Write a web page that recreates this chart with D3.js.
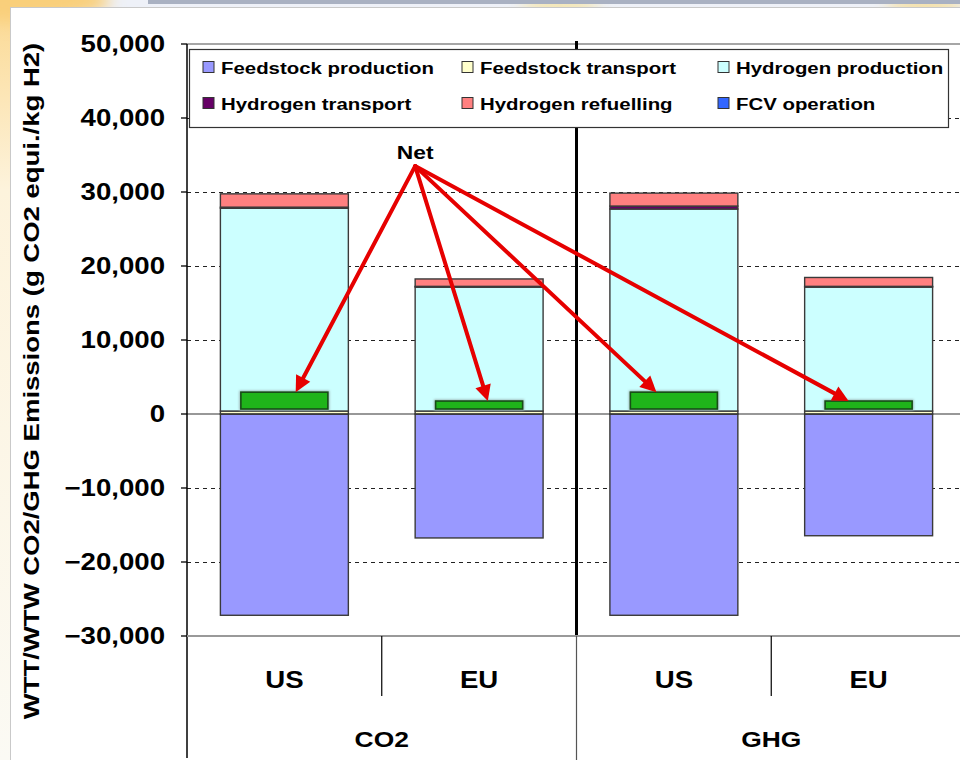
<!DOCTYPE html>
<html>
<head>
<meta charset="utf-8">
<script src="https://cdn.jsdelivr.net/npm/d3@7"></script>
<style>
  html, body { margin: 0; padding: 0; background: #f4f6fb; }
  svg { display: block; }
  text { font-family: "Liberation Sans", Arial, sans-serif; font-weight: bold; fill: #000; }
</style>
</head>
<body>
<svg id="chart" width="960" height="760"></svg>
<script>
// ---- data -------------------------------------------------------------
const categories = ["US", "EU", "US", "EU"];
const groups = ["CO2", "CO2", "GHG", "GHG"];

const feedstockProduction = [-27200, -16750, -27200, -16450];
const feedstockTransport  = [400, 400, 400, 400];
const hydrogenProduction  = [27400, 16750, 27300, 16750];
const hydrogenTransport   = [150, 100, 400, 100];
const hydrogenRefuelling  = [1800, 1000, 1750, 1200];
const fcvOperation        = [0, 0, 0, 0];
const netEmissions        = [2950, 1750, 2950, 1750];

const seriesNames = ["Feedstock production", "Feedstock transport", "Hydrogen production",
                     "Hydrogen transport", "Hydrogen refuelling", "FCV operation"];
const seriesValues = [feedstockProduction, feedstockTransport, hydrogenProduction,
                      hydrogenTransport, hydrogenRefuelling, fcvOperation];
const seriesColors = ["#9999ff", "#ffffcc", "#ccffff", "#660066", "#ff8080", "#3366ff"];

const yTicks = [-30000, -20000, -10000, 0, 10000, 20000, 30000, 40000, 50000];
const yTitle = "WTT/WTW CO2/GHG Emissions (g CO2 equi./kg H2)";
const netLabel = "Net";

// ---- layout -----------------------------------------------------------
const svg = d3.select("#chart");
const plot = { left: 187, right: 966, top: 44, bottom: 636 };
const SX = 1.2; // horizontal text stretch

const keys = categories.map((c, i) => groups[i] + " " + c);
const rows = keys.map((k, i) => {
  const r = { key: k };
  seriesNames.forEach((s, j) => r[s] = seriesValues[j][i]);
  return r;
});

const y = d3.scaleLinear().domain([-30000, 50000]).range([plot.bottom, plot.top]);
const x = d3.scaleBand().domain(keys).range([plot.left, plot.right])
  .paddingInner(0.343).paddingOuter(0.1715);
const step = x.step();
const catStart = k => x(k) - x.paddingOuter() * step;

function place(sel, px, py, sx) {
  return sel.attr("transform", `translate(${px},${py}) scale(${sx},1)`);
}

// ---- backdrop -----------------------------------------------------------
const defs = svg.append("defs");
defs.append("filter").attr("id", "soft").attr("x", "-50%").attr("y", "-50%")
  .attr("width", "200%").attr("height", "200%")
  .append("feGaussianBlur").attr("stdDeviation", 8);
defs.append("filter").attr("id", "halo").attr("x", "-20%").attr("y", "-50%")
  .attr("width", "140%").attr("height", "200%")
  .append("feGaussianBlur").attr("stdDeviation", 1.2);
const lg = defs.append("linearGradient").attr("id", "leftStrip")
  .attr("x1", 0).attr("y1", 0).attr("x2", 0).attr("y2", 1);
lg.append("stop").attr("offset", "0%").attr("stop-color", "#fbd890");
lg.append("stop").attr("offset", "25%").attr("stop-color", "#fdf3dc");
lg.append("stop").attr("offset", "100%").attr("stop-color", "#fbfaf4");

svg.append("rect").attr("width", 960).attr("height", 760).attr("fill", "#eef1f8");
svg.append("rect").attr("x", 0).attr("y", 0).attr("width", 12).attr("height", 760).attr("fill", "url(#leftStrip)");
svg.append("ellipse").attr("cx", 20).attr("cy", 0).attr("rx", 90).attr("ry", 22)
  .attr("fill", "#f9cf7a").attr("filter", "url(#soft)");
svg.append("ellipse").attr("cx", 560).attr("cy", 6).attr("rx", 40).attr("ry", 8)
  .attr("fill", "#f6e3a0").attr("filter", "url(#soft)");
svg.append("ellipse").attr("cx", 925).attr("cy", 6).attr("rx", 40).attr("ry", 8)
  .attr("fill", "#f6dc92").attr("filter", "url(#soft)");
svg.append("rect").attr("x", 148).attr("y", 0).attr("width", 812).attr("height", 4).attr("fill", "#a9b1c2");
svg.append("rect").attr("x", 10.5).attr("y", 7.5).attr("width", 960).attr("height", 760)
  .attr("fill", "#fff").attr("stroke", "#c9c9c9");

// ---- gridlines ----------------------------------------------------------
const grid = svg.append("g");
yTicks.filter(t => t !== 0 && t !== 50000 && t !== -30000).forEach(t => {
  grid.append("line").attr("x1", plot.left).attr("x2", 960)
    .attr("y1", Math.round(y(t)) + 0.5).attr("y2", Math.round(y(t)) + 0.5)
    .attr("stroke", "#222").attr("stroke-width", 1.2).attr("stroke-dasharray", "4,4");
});
// top frame line
svg.append("line").attr("x1", plot.left).attr("x2", 960)
  .attr("y1", y(50000)).attr("y2", y(50000)).attr("stroke", "#888").attr("stroke-width", 1.5);

// ---- stacked bars -------------------------------------------------------
const stack = d3.stack().keys(seriesNames).offset(d3.stackOffsetDiverging)(rows);
const barG = svg.append("g");
stack.forEach((layer, j) => {
  barG.selectAll(null).data(layer.filter(d => d[1] !== d[0])).join("rect")
    .attr("x", d => x(d.data.key))
    .attr("width", x.bandwidth())
    .attr("y", d => y(Math.max(d[0], d[1])))
    .attr("height", d => Math.abs(y(d[0]) - y(d[1])))
    .attr("fill", seriesColors[j])
    .attr("stroke", "#3a3a3a").attr("stroke-width", 1.4);
});

// zero line
svg.append("line").attr("x1", plot.left).attr("x2", 960)
  .attr("y1", y(0)).attr("y2", y(0)).attr("stroke", "#333").attr("stroke-width", 1.2);

// ---- net bars -----------------------------------------------------------
const netW = x.bandwidth() * 0.68;
const netG = svg.append("g");
netEmissions.forEach((v, i) => {
  const k = keys[i];
  const cx = x(k) + x.bandwidth() / 2;
  netG.append("rect").attr("x", cx - netW / 2).attr("width", netW)
    .attr("y", y(v)).attr("height", y(0) - 5 - y(v))
    .attr("fill", "none").attr("stroke", "#9ab0b0").attr("stroke-width", 3)
    .attr("filter", "url(#halo)");
  netG.append("rect").attr("x", cx - netW / 2).attr("width", netW)
    .attr("y", y(v)).attr("height", y(0) - 5 - y(v))
    .attr("fill", "#1fb41a").attr("stroke", "#174d17").attr("stroke-width", 1.6);
});

// group separator inside plot
svg.append("line").attr("x1", catStart(keys[2])).attr("x2", catStart(keys[2]))
  .attr("y1", plot.top - 3).attr("y2", plot.bottom).attr("stroke", "#000").attr("stroke-width", 3);

// ---- y axis -------------------------------------------------------------
const yAxis = svg.append("g");
yAxis.append("line").attr("x1", plot.left).attr("x2", plot.left)
  .attr("y1", plot.top).attr("y2", 758).attr("stroke", "#000").attr("stroke-width", 1.5);
yTicks.forEach(t => {
  yAxis.append("line").attr("x1", plot.left - 6).attr("x2", plot.left)
    .attr("y1", y(t)).attr("y2", y(t)).attr("stroke", "#000").attr("stroke-width", 1.3);
  place(yAxis.append("text"), 165, y(t) + 8, SX)
    .attr("text-anchor", "end").attr("font-size", 23).text(d3.format(",")(t));
});
svg.append("text").attr("text-anchor", "middle").attr("font-size", 22)
  .attr("transform", `translate(39,${381}) rotate(-90) scale(1.25,1)`).text(yTitle);

// ---- category axis ------------------------------------------------------
svg.append("line").attr("x1", plot.left).attr("x2", 960)
  .attr("y1", plot.bottom).attr("y2", plot.bottom).attr("stroke", "#999").attr("stroke-width", 2);
const xAxis = svg.append("g");
keys.forEach((k, i) => {
  const cx = x(k) + x.bandwidth() / 2;
  place(xAxis.append("text"), cx, 688, SX).attr("text-anchor", "middle").attr("font-size", 23)
    .text(categories[i]);
  if (i % 2 === 1) {
    const sx = catStart(k);
    xAxis.append("line").attr("x1", sx).attr("x2", sx).attr("y1", plot.bottom).attr("y2", 696)
      .attr("stroke", "#000").attr("stroke-width", 1.2);
  }
});
const groupNames = Array.from(new Set(groups));
groupNames.forEach((g, gi) => {
  const ks = keys.filter((k, i) => groups[i] === g);
  const x0 = catStart(ks[0]);
  const x1 = catStart(ks[ks.length - 1]) + step;
  place(xAxis.append("text"), (x0 + x1) / 2, 747, SX).attr("text-anchor", "middle")
    .attr("font-size", 22).text(g);
  if (gi > 0) {
    xAxis.append("line").attr("x1", x0).attr("x2", x0).attr("y1", plot.bottom).attr("y2", 760)
      .attr("stroke", "#555").attr("stroke-width", 1.2);
  }
});

// ---- legend -------------------------------------------------------------
const leg = svg.append("g");
leg.append("rect").attr("x", 189.5).attr("y", 49.5).attr("width", 759).attr("height", 78)
  .attr("fill", "#fff").attr("stroke", "#333").attr("stroke-width", 1.2);
const colX = [203, 462, 718];
const rowY = [67, 103];
seriesNames.forEach((s, i) => {
  const cx = colX[i % 3], cy = rowY[Math.floor(i / 3)];
  leg.append("rect").attr("x", cx).attr("y", cy - 5.5).attr("width", 11).attr("height", 11)
    .attr("fill", seriesColors[i]).attr("stroke", "#333").attr("stroke-width", 1);
  place(leg.append("text"), cx + 18, cy + 6.5, SX).attr("font-size", 17).text(s);
});

// ---- net annotation -----------------------------------------------------
const origin = [x(keys[1]), y(33500)];
place(svg.append("text"), origin[0], origin[1] - 7, SX).attr("text-anchor", "middle")
  .attr("font-size", 19).text(netLabel);
const tipFrac = [0.63, 0.6, 0.3, 0.27];
const arrowG = svg.append("g");
netEmissions.forEach((v, i) => {
  const k = keys[i];
  const left = x(k) + (x.bandwidth() - netW) / 2;
  const tx = left + netW * tipFrac[i], ty = y(v);
  const dx = tx - origin[0], dy = ty - origin[1];
  const len = Math.hypot(dx, dy);
  const ux = dx / len, uy = dy / len;
  const headL = 16, headW = 8;
  const bx = tx - ux * headL, by = ty - uy * headL;
  arrowG.append("line").attr("x1", origin[0]).attr("y1", origin[1])
    .attr("x2", bx + ux * 2).attr("y2", by + uy * 2)
    .attr("stroke", "#e60000").attr("stroke-width", 4).attr("stroke-linecap", "round");
  arrowG.append("path")
    .attr("d", `M${tx},${ty} L${bx - uy * headW},${by + ux * headW} L${bx + uy * headW},${by - ux * headW} Z`)
    .attr("fill", "#e60000");
});
</script>
</body>
</html>
